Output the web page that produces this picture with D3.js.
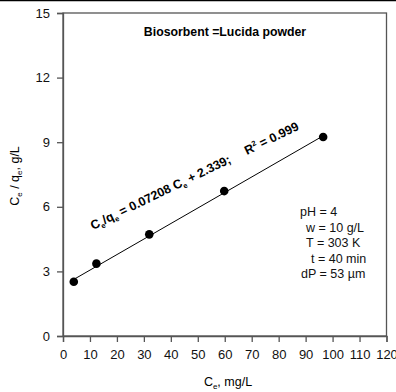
<!DOCTYPE html>
<html><head><meta charset="utf-8">
<script src="https://cdn.jsdelivr.net/npm/d3@7"></script>
<style>body{margin:0;background:#fff}svg{display:block}text{font-family:"Liberation Sans",Arial,sans-serif}</style>
</head><body><div id="c"></div>
<script>
const ceValues = [4, 12.4, 32, 59.8, 96.5];
const ceQeValues = [2.52, 3.36, 4.72, 6.73, 9.24];
const fitSlope = 0.07208, fitIntercept = 2.339;
const xTicks = [0,10,20,30,40,50,60,70,80,90,100,110,120];
const yTicks = [0,3,6,9,12,15];
const titleText = "Biosorbent =Lucida powder";
const conditions = ["pH = 4", "w = 10 g/L", "T = 303 K", "t = 40 min", "dP = 53 \u00b5m"];

const W=396,H=392;
const svg=d3.select("#c").append("svg").attr("width",W).attr("height",H);
const x=d3.scaleLinear().domain([0,120]).range([63,386.5]);
const y=d3.scaleLinear().domain([0,15]).range([336,13]);
const axisCol="#555";

svg.append("line").attr("x1",0).attr("x2",W).attr("y1",0.5).attr("y2",0.5).attr("stroke","#000").attr("stroke-width",1.5);

svg.append("rect").attr("x",x(0)).attr("y",y(15)).attr("width",x(120)-x(0)).attr("height",y(0)-y(15))
  .attr("fill","none").attr("stroke",axisCol).attr("stroke-width",1.3);

const xa=svg.append("g").attr("transform",`translate(0,${y(0)})`)
  .call(d3.axisBottom(x).tickValues(xTicks).tickSize(6).tickPadding(8).tickFormat(d3.format("d")));
const ya=svg.append("g").attr("transform",`translate(${x(0)},0)`)
  .call(d3.axisLeft(y).tickValues(yTicks).tickSize(6).tickPadding(7).tickFormat(d3.format("d")));
[xa,ya].forEach(g=>{
  g.select(".domain").attr("stroke",axisCol).attr("stroke-width",1.3);
  g.selectAll(".tick line").attr("stroke",axisCol).attr("stroke-width",1.3);
  g.selectAll(".tick text").style("font-size","13px").attr("fill","#111");
});

const x0=d3.min(ceValues), x1=d3.max(ceValues);
svg.append("line").attr("x1",x(x0)).attr("y1",y(fitSlope*x0+fitIntercept))
  .attr("x2",x(x1)).attr("y2",y(fitSlope*x1+fitIntercept)).attr("stroke","#000").attr("stroke-width",1);

svg.selectAll("circle.pt").data(ceValues).join("circle").attr("class","pt")
  .attr("cx",d=>x(d)).attr("cy",(d,i)=>y(ceQeValues[i])).attr("r",4.3).attr("fill","#000");

svg.append("text").attr("x",225).attr("y",36).attr("text-anchor","middle")
  .style("font-size","12.3px").attr("font-weight","bold").text(titleText);

const eq=svg.append("text").attr("transform","translate(93,230) rotate(-26)")
  .style("font-size","12.5px").attr("font-weight","bold");
eq.append("tspan").text("C");
eq.append("tspan").style("font-size","7.5px").attr("dy",3).text("e");
eq.append("tspan").attr("dy",-3).text("/q");
eq.append("tspan").style("font-size","7.5px").attr("dy",3).text("e");
eq.append("tspan").attr("dy",-3).text(` = ${fitSlope} C`);
eq.append("tspan").style("font-size","7.5px").attr("dy",3).text("e");
eq.append("tspan").attr("dy",-3).text(` + ${fitIntercept};`);
eq.append("tspan").attr("dx",17).text("R");
eq.append("tspan").style("font-size","7.5px").attr("dy",-5).text("2");
eq.append("tspan").attr("dy",5).text(" = 0.999");

const condX=[300,306,306,311,301];
svg.selectAll("text.cond").data(conditions).join("text").attr("class","cond")
  .attr("x",(d,i)=>condX[i]).attr("y",(d,i)=>216+i*15.6).style("font-size","12.5px").attr("fill","#111").text(d=>d);

const xl=svg.append("text").attr("x",228).attr("y",386).attr("text-anchor","middle").style("font-size","12.5px");
xl.append("tspan").text("C");
xl.append("tspan").style("font-size","8px").attr("dy",3).text("e");
xl.append("tspan").attr("dy",-3).text(", mg/L");

const yl=svg.append("text").attr("transform","translate(19,176) rotate(-90)").attr("text-anchor","middle").style("font-size","12.5px");
yl.append("tspan").text("C");
yl.append("tspan").style("font-size","8px").attr("dy",3).text("e");
yl.append("tspan").attr("dy",-3).text(" / q");
yl.append("tspan").style("font-size","8px").attr("dy",3).text("e");
yl.append("tspan").attr("dy",-3).text(", g/L");
</script></body></html>
